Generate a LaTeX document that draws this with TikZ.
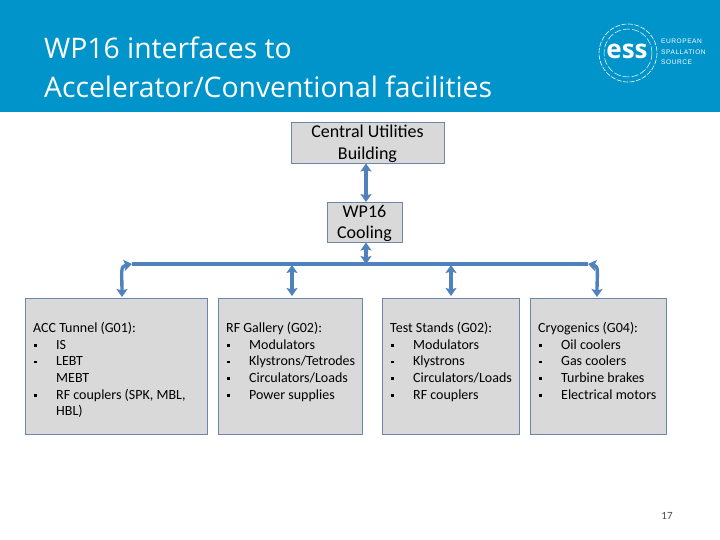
\documentclass[tikz,border=0pt]{standalone}
\usepackage{fontspec}
\setmainfont{Carlito}
\newfontfamily\titlefont{Open Sans}
\newfontfamily\logofont{Open Sans}
\newfontfamily\logosmall[LetterSpace=8]{Liberation Sans}
\usetikzlibrary{arrows.meta}
\definecolor{band}{HTML}{0094CA}
\definecolor{boxfill}{HTML}{D9D9D9}
\definecolor{boxline}{HTML}{6C86A8}
\definecolor{link}{HTML}{4F81BD}
\tikzset{
  x=1pt,y=-1pt,
  topbox/.style={draw=boxline,fill=boxfill,line width=0.9pt,align=center,inner sep=0pt,font=\fontsize{18}{21.5}\selectfont},
  listbox/.style={draw=boxline,fill=boxfill,line width=0.9pt,inner sep=0pt},
  listtext/.style={anchor=north west,inner sep=0pt,align=left,font=\fontsize{14}{16.7}\selectfont},
  link/.style={draw=link,line width=3.4pt,{Stealth[length=8pt,width=11pt,inset=1.5pt]}-{Stealth[length=8pt,width=11pt,inset=1.5pt]}},
  barline/.style={draw=link,line width=3.2pt},
}
\newcommand{\itemrow}[1]{\makebox[23pt][l]{\hspace*{1pt}\raisebox{2.5pt}{\rule{2.6pt}{2.6pt}}}#1\\}
\newcommand{\lowerline}{\rule{0pt}{15.5pt}}
\begin{document}
\begin{tikzpicture}
\useasboundingbox (0,0) rectangle (720,540);
\fill[band] (0,0) rectangle (720,112);
\node[anchor=west,inner sep=0pt,white,align=left,font=\titlefont\fontsize{28.3}{39}\selectfont] (title) at (44,67.5) {WP16 interfaces to\\Accelerator/Conventional facilities};
% logo
\draw[white,line width=0.6pt,dash pattern=on 5pt off 1.5pt] (628,53) circle (29);
\draw[white,line width=0.5pt,dash pattern=on 7pt off 2pt] (628,53) circle (24);
\node[white,inner sep=0pt,font=\logofont\bfseries\fontsize{26}{26}\selectfont] (ess) at (627,51) {ess};
\node[anchor=west,white,inner sep=0pt,align=left,font=\logosmall\fontsize{6.6}{10.4}\selectfont] (esstext) at (661,52) {EUROPEAN\\SPALLATION\\SOURCE};
% boxes
\node[topbox,minimum width=153pt,minimum height=41pt] (cub) at (367.5,142.5) {\lowerline Central Utilities\\Building};
\node[topbox,minimum width=75pt,minimum height=40pt] (wp) at (364.5,222) {\lowerline WP16\\Cooling};
\node[listbox,minimum width=182pt,minimum height=136pt] (acc) at (116,366) {};
\node[listbox,minimum width=144pt,minimum height=136pt] (rf) at (290,366) {};
\node[listbox,minimum width=137pt,minimum height=136pt] (ts) at (450.5,366) {};
\node[listbox,minimum width=136pt,minimum height=136pt] (cry) at (598,366) {};
\node[listtext] (acct) at (33,322) {ACC Tunnel (G01):\\\itemrow{IS}\itemrow{LEBT}\hspace*{23pt}MEBT\\\itemrow{RF couplers (SPK, MBL,}\hspace*{23pt}HBL)};
\node[listtext] (rft) at (226,322) {RF Gallery (G02):\\\itemrow{Modulators}\itemrow{Klystrons/Tetrodes}\itemrow{Circulators/Loads}\itemrow{Power supplies}};
\node[listtext] (tst) at (390,322) {Test Stands (G02):\\\itemrow{Modulators}\itemrow{Klystrons}\itemrow{Circulators/Loads}\itemrow{RF couplers}};
\node[listtext] (cryt) at (538,322) {Cryogenics (G04):\\\itemrow{Oil coolers}\itemrow{Gas coolers}\itemrow{Turbine brakes}\itemrow{Electrical motors}};
% bar
\coordinate (barL) at (132,264);
\coordinate (barR) at (588,264);
\coordinate (barW) at (366,264);
\coordinate (bar2) at (292,265);
\coordinate (bar3) at (451,265);
\coordinate (cubS) at (366,163.5);
\coordinate (wpN) at (366,202);
\coordinate (wpS) at (366,242.5);
\coordinate (accN) at (122,297);
\coordinate (cryN) at (597,297);
\coordinate (rfN) at (292,296);
\coordinate (tsN) at (451,296);
\draw[barline] (barL) -- (barR);
\draw[link] (cubS) -- (wpN);
\draw[link] (wpS) -- (barW);
\draw[link] (accN) .. controls (122,274) and (120,266) .. (barL);
\draw[link] (cryN) .. controls (597,274) and (599,266) .. (barR);
\draw[link] (bar2) -- (rfN);
\draw[link] (bar3) -- (tsN);
\node[anchor=center,inner sep=0pt,font=\fontsize{11}{12}\selectfont,text=black!70] (pg) at (667,516) {17};
\end{tikzpicture}
\end{document}
